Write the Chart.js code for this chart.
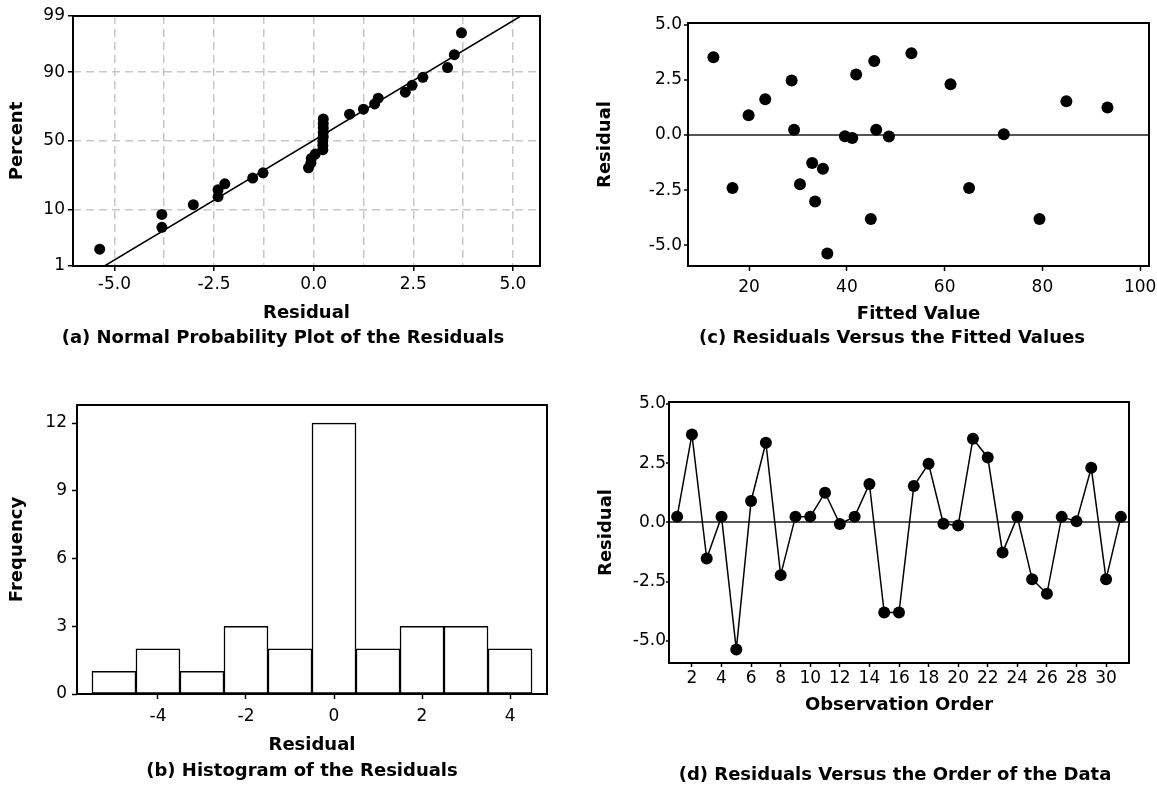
<!DOCTYPE html>
<html>
<head>
<meta charset="utf-8">
<title>Residual plots</title>
<script src="https://cdn.jsdelivr.net/npm/chart.js@4.4.1/dist/chart.umd.min.js"></script>
<style>
  body { margin: 0; background: #fff; width: 1157px; height: 788px; position: relative; overflow: hidden; }
  canvas { position: absolute; }
</style>
</head>
<body>
<canvas id="chart-prob" width="560" height="350" style="left:0;top:0"></canvas>
<canvas id="chart-hist" width="560" height="400" style="left:0;top:388px"></canvas>
<canvas id="chart-fits" width="597" height="350" style="left:560px;top:0"></canvas>
<canvas id="chart-order" width="597" height="400" style="left:560px;top:388px"></canvas>
<script>
// ---- data ----

// (a) normal probability plot: sorted residuals and their plotted percent
const probResiduals = [-5.37, -3.81, -3.81, -3.02, -2.40, -2.40, -2.23, -1.53, -1.27, -0.13, -0.07, -0.06, 0.04,
    0.23, 0.23, 0.23, 0.24, 0.24, 0.24, 0.24, 0.24, 0.90, 1.25, 1.53, 1.62, 2.30, 2.47, 2.74, 3.36, 3.53, 3.71];
const probPercents = [2.2, 5.4, 8.6, 11.8, 15.0, 18.2, 21.3, 24.5, 27.7, 30.9, 34.1, 37.3, 40.4, 43.6, 46.8, 50.0,
    53.2, 56.4, 59.6, 62.7, 65.9, 69.1, 72.3, 75.5, 78.7, 81.8, 85.0, 88.2, 91.4, 94.6, 97.8];
const fitLineResiduals = [-5.25, 5.2];
const fitLinePercents = [1, 99];
const percentTicks = [1, 10, 50, 90, 99];
const probGridX = [-5, -3.75, -2.5, -1.25, 0, 1.25, 2.5, 3.75, 5];

// (b) histogram: bin centres and counts
const histBins = [-5, -4, -3, -2, -1, 0, 1, 2, 3, 4];
const histCounts = [1, 2, 1, 3, 2, 12, 2, 3, 3, 2];
const histTicksX = [-4, -2, 0, 2, 4];
const histTicksY = [0, 3, 6, 9, 12];

// (c) residuals versus fitted values
const fittedValues = [12.7, 16.6, 19.9, 23.3, 28.7, 29.2, 30.4, 32.9, 33.5, 35.1, 36.0, 39.6, 41.1, 41.9, 44.9,
    45.6, 46.0, 48.6, 53.2, 61.2, 65.0, 72.1, 79.4, 84.9, 93.3];
const fittedResiduals = [3.53, -2.40, 0.90, 1.62, 2.47, 0.24, -2.23, -1.27, -3.02, -1.53, -5.37, -0.06, -0.13, 2.74,
    -3.81, 3.36, 0.24, -0.07, 3.71, 2.30, -2.40, 0.04, -3.81, 1.53, 1.25];
const fittedTicksX = [20, 40, 60, 80, 100];

// (d) residuals in observation order (1..31)
const orderResiduals = [0.24, 3.71, -1.53, 0.24, -5.37, 0.90, 3.36, -2.23, 0.24, 0.24, 1.25, -0.07, 0.24, 1.62,
    -3.81, -3.81, 1.53, 2.47, -0.06, -0.13, 3.53, 2.74, -1.27, 0.23, -2.40, -3.02, 0.23, 0.04, 2.30, -2.40, 0.23];
const orderTicksX = [2, 4, 6, 8, 10, 12, 14, 16, 18, 20, 22, 24, 26, 28, 30];

const residualTicks = [-5, -2.5, 0, 2.5, 5];

// ---- helpers ----

Chart.defaults.font.family = '"DejaVu Sans", Verdana, sans-serif';
Chart.defaults.font.size = 17;
Chart.defaults.color = '#000';
Chart.defaults.animation = false;
Chart.defaults.plugins.legend.display = false;
Chart.defaults.plugins.tooltip.enabled = false;

const titleFont = { size: 18, weight: 'bold' };

// inverse standard normal CDF (Acklam), for the probability axis
function probit(p) {
    const a = [-39.69683028665376, 220.9460984245205, -275.9285104469687, 138.3577518672690, -30.66479806614716, 2.506628277459239];
    const b = [-54.47609879822406, 161.5858368580409, -155.6989798598866, 66.80131188771972, -13.28068155288572];
    const c = [-0.007784894002430293, -0.3223964580411365, -2.400758277161838, -2.549732539343734, 4.374664141464968, 2.938163982698783];
    const d = [0.007784695709041462, 0.3224671290700398, 2.445134137142996, 3.754408661907416];
    const plow = 0.02425;
    let q, r;
    if (p < plow) {
        q = Math.sqrt(-2 * Math.log(p));
        return (((((c[0] * q + c[1]) * q + c[2]) * q + c[3]) * q + c[4]) * q + c[5]) / ((((d[0] * q + d[1]) * q + d[2]) * q + d[3]) * q + 1);
    }
    if (p > 1 - plow) {
        q = Math.sqrt(-2 * Math.log(1 - p));
        return -(((((c[0] * q + c[1]) * q + c[2]) * q + c[3]) * q + c[4]) * q + c[5]) / ((((d[0] * q + d[1]) * q + d[2]) * q + d[3]) * q + 1);
    }
    q = p - 0.5;
    r = q * q;
    return (((((a[0] * r + a[1]) * r + a[2]) * r + a[3]) * r + a[4]) * r + a[5]) * q / (((((b[0] * r + b[1]) * r + b[2]) * r + b[3]) * r + b[4]) * r + 1);
}

// black frame round the plot area
const frame = {
    id: 'frame',
    afterDatasetsDraw(chart) {
        const { ctx, chartArea: a } = chart;
        ctx.save();
        ctx.strokeStyle = '#000';
        ctx.lineWidth = 2;
        ctx.strokeRect(a.left, a.top, a.right - a.left, a.bottom - a.top);
        ctx.restore();
    }
};

// caption under each panel
const caption = {
    id: 'caption',
    afterDraw(chart, args, opts) {
        const ctx = chart.ctx;
        ctx.save();
        ctx.font = 'bold 18px "DejaVu Sans", Verdana, sans-serif';
        ctx.fillStyle = '#000';
        ctx.textAlign = 'center';
        ctx.textBaseline = 'middle';
        ctx.fillText(opts.text, opts.x, opts.y);
        ctx.restore();
    }
};

function fixedTicks(values) {
    return scale => { scale.ticks = values.map(v => ({ value: v })); };
}
function fixWidth(w) {
    return scale => { scale.width = w; scale.paddingTop = 0; scale.paddingBottom = 0; };
}
function fixHeight(h) {
    return scale => { scale.height = h; scale.paddingLeft = 0; scale.paddingRight = 0; };
}
function isMajor(v) {
    return Math.abs(v / 2.5 - Math.round(v / 2.5)) < 1e-6;
}

// ---- (a) normal probability plot ----
new Chart(document.getElementById('chart-prob'), {
    type: 'scatter',
    data: {
        datasets: [{
            data: probResiduals.map((r, i) => ({ x: r, y: probit(probPercents[i] / 100) })),
            pointRadius: 5.5,
            pointBackgroundColor: '#000',
            pointBorderWidth: 0,
            clip: false
        }, {
            type: 'line',
            data: fitLineResiduals.map((r, i) => ({ x: r, y: probit(fitLinePercents[i] / 100) })),
            borderColor: '#000',
            borderWidth: 1.5,
            pointRadius: 0
        }]
    },
    options: {
        responsive: false,
        layout: { autoPadding: false, padding: { top: 16, right: 20, bottom: 26, left: 0 } },
        scales: {
            x: {
                type: 'linear', min: -6.04, max: 5.68,
                afterBuildTicks: fixedTicks(probGridX),
                afterFit: fixHeight(58),
                ticks: { padding: 3, callback: v => isMajor(v) ? v.toFixed(1) : '' },
                grid: {
                    color: '#c8c8c8', lineWidth: 1.5, tickLength: 5, tickWidth: 1.5,
                    tickColor: c => isMajor(c.tick.value) ? '#000' : 'rgba(0,0,0,0)'
                },
                border: { display: false, dash: [8, 5] },
                title: { display: true, text: 'Residual', font: titleFont, padding: { top: 0, bottom: 0 } }
            },
            y: {
                type: 'linear', min: probit(0.01), max: probit(0.99),
                afterBuildTicks: fixedTicks(percentTicks.map(p => probit(p / 100))),
                afterFit: fixWidth(73),
                ticks: { padding: 3, callback: (v, i) => String(percentTicks[i]) },
                grid: { color: '#c8c8c8', lineWidth: 1.5, tickLength: 5, tickWidth: 1.5, tickColor: '#000' },
                border: { display: false, dash: [8, 5] },
                title: { display: true, text: 'Percent', font: titleFont, padding: { top: 7, bottom: 0 } }
            }
        },
        plugins: { caption: { text: '(a) Normal Probability Plot of the Residuals', x: 283, y: 338 } }
    },
    plugins: [frame, caption]
});

// ---- (b) histogram ----
new Chart(document.getElementById('chart-hist'), {
    type: 'bar',
    data: {
        datasets: [{
            data: histBins.map((b, i) => ({ x: b, y: histCounts[i] })),
            backgroundColor: '#fff',
            borderColor: '#000',
            borderWidth: 1.5,
            borderSkipped: false,
            barPercentage: 1,
            categoryPercentage: 1
        }]
    },
    options: {
        responsive: false,
        layout: { autoPadding: false, padding: { top: 17, right: 13, bottom: 32, left: 0 } },
        scales: {
            x: {
                type: 'linear', min: -5.84, max: 4.84, offset: false,
                afterBuildTicks: fixedTicks(histTicksX),
                afterFit: fixHeight(62),
                ticks: { padding: 7 },
                grid: { offset: false, drawOnChartArea: false, tickLength: 5, tickWidth: 1.5, tickColor: '#000' },
                border: { display: false },
                title: { display: true, text: 'Residual', font: titleFont, padding: { top: 0, bottom: 0 } }
            },
            y: {
                min: 0, max: 12.8,
                afterBuildTicks: fixedTicks(histTicksY),
                afterFit: fixWidth(77),
                ticks: { padding: 5 },
                grid: { drawOnChartArea: false, tickLength: 5, tickWidth: 1.5, tickColor: '#000' },
                border: { display: false },
                title: { display: true, text: 'Frequency', font: titleFont, padding: { top: 7, bottom: 0 } }
            }
        },
        plugins: { caption: { text: '(b) Histogram of the Residuals', x: 302, y: 383 } }
    },
    plugins: [frame, caption]
});

// shared y axis for the two residual panels
function residualAxis(width, tickLen, pad, titlePad) {
    return {
        min: -5.94, max: 5.08,
        afterBuildTicks: fixedTicks(residualTicks),
        afterFit: fixWidth(width),
        ticks: { padding: pad, callback: v => v.toFixed(1) },
        grid: {
            color: c => c.tick.value === 0 ? '#555' : 'rgba(0,0,0,0)',
            lineWidth: 2, tickLength: tickLen, tickWidth: 1.5, tickColor: '#000'
        },
        border: { display: false },
        title: { display: true, text: 'Residual', font: titleFont, padding: { top: titlePad, bottom: 0 } }
    };
}

// ---- (c) residuals versus fits ----
new Chart(document.getElementById('chart-fits'), {
    type: 'scatter',
    data: {
        datasets: [{
            data: fittedValues.map((f, i) => ({ x: f, y: fittedResiduals[i] })),
            pointRadius: 6,
            pointBackgroundColor: '#000',
            pointBorderWidth: 0,
            clip: false
        }]
    },
    options: {
        responsive: false,
        layout: { autoPadding: false, padding: { top: 23, right: 8, bottom: 25, left: 0 } },
        scales: {
            x: {
                type: 'linear', min: 7.5, max: 101.8,
                afterBuildTicks: fixedTicks(fittedTicksX),
                afterFit: fixHeight(59),
                ticks: { padding: 6 },
                grid: { drawOnChartArea: false, tickLength: 5, tickWidth: 1.5, tickColor: '#000' },
                border: { display: false },
                title: { display: true, text: 'Fitted Value', font: titleFont, padding: { top: 0, bottom: 0 } }
            },
            y: residualAxis(128, 4, 2, 35)
        },
        plugins: { caption: { text: '(c) Residuals Versus the Fitted Values', x: 332, y: 338 } }
    },
    plugins: [frame, caption]
});

// ---- (d) residuals versus order ----
new Chart(document.getElementById('chart-order'), {
    type: 'line',
    data: {
        datasets: [{
            data: orderResiduals.map((r, i) => ({ x: i + 1, y: r })),
            borderColor: '#000',
            borderWidth: 1.5,
            pointRadius: 6,
            pointBackgroundColor: '#000',
            pointBorderWidth: 0,
            tension: 0,
            clip: false
        }]
    },
    options: {
        responsive: false,
        layout: { autoPadding: false, padding: { top: 14, right: 28, bottom: 72, left: 0 } },
        scales: {
            x: {
                type: 'linear', min: 0.45, max: 31.55,
                afterBuildTicks: fixedTicks(orderTicksX),
                afterFit: fixHeight(53),
                ticks: { padding: 1 },
                grid: { drawOnChartArea: false, tickLength: 4, tickWidth: 1.5, tickColor: '#000' },
                border: { display: false },
                title: { display: true, text: 'Observation Order', font: titleFont, padding: { top: 0, bottom: 0 } }
            },
            y: residualAxis(109, 3, 0, 35.5)
        },
        plugins: { caption: { text: '(d) Residuals Versus the Order of the Data', x: 335, y: 387 } }
    },
    plugins: [frame, caption]
});
</script>
</body>
</html>
